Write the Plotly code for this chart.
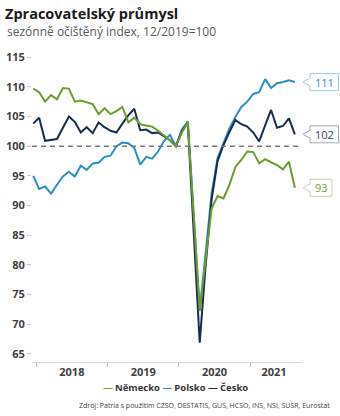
import plotly.graph_objects as go

# Monthly index values, 12/2019 = 100 (Dec 2017 .. Aug 2021)
months = [f"{y}-{m:02d}" for y, m in
          [(2017, 12)] + [(y, m) for y in (2018, 2019, 2020) for m in range(1, 13)]
          + [(2021, m) for m in range(1, 9)]]

nemecko = [109.7, 109.1, 107.5, 108.6, 107.9, 109.8, 109.7, 107.5, 107.7, 107.4,
           107.1, 105.4, 106.4, 105.4, 105.9, 106.6, 104.0, 104.8, 103.7, 103.5,
           103.3, 102.6, 101.8, 101.0, 100.0, 102.3, 104.0, 88.0, 72.2, 81.0,
           89.5, 91.6, 91.2, 93.5, 96.5, 97.7, 99.1, 99.0, 97.1, 97.8,
           97.3, 96.8, 96.1, 97.4, 93.0]

polsko = [95.0, 92.8, 93.2, 92.0, 93.5, 94.9, 95.7, 94.9, 96.7, 96.0,
          97.1, 97.2, 98.2, 98.4, 100.0, 100.6, 100.5, 99.7, 96.9, 98.2,
          97.9, 99.1, 100.9, 101.9, 100.0, 102.8, 104.2, 88.0, 72.5, 82.0,
          92.0, 98.0, 100.5, 103.0, 104.9, 106.6, 107.5, 108.8, 109.1, 111.3,
          109.8, 110.6, 110.8, 111.1, 110.8]

cesko = [103.8, 104.8, 100.9, 101.1, 101.2, 103.1, 105.0, 104.1, 102.3, 103.2,
         102.2, 104.0, 103.2, 102.6, 102.3, 103.8, 105.2, 106.3, 102.7, 102.8,
         102.2, 102.3, 101.6, 101.0, 100.0, 102.5, 103.9, 85.5, 66.9, 80.0,
         91.0, 97.5, 100.2, 102.4, 104.4, 103.7, 103.3, 102.3, 100.8, 103.5,
         106.1, 103.1, 103.4, 104.7, 102.0]

series_names = ["Německo", "Polsko", "Česko"]
y_ticks = [65, 70, 75, 80, 85, 90, 95, 100, 105, 110, 115]
base_value = 100

FONT = "Open Sans"
colors = {"Německo": "#6c9c2d", "Polsko": "#2c8fc3", "Česko": "#172c50"}
label_text = {"Německo": "#76a03e", "Polsko": "#2c8fc3", "Česko": "#33425e"}
label_border = {"Německo": "#bcd59f", "Polsko": "#9ccbe6", "Česko": "#9ea8ba"}

values = {"Německo": nemecko, "Polsko": polsko, "Česko": cesko}
xs = list(range(len(months)))

fig = go.Figure()
for name in ["Polsko", "Česko", "Německo"]:
    fig.add_trace(go.Scatter(
        x=xs, y=values[name], mode="lines", name=name,
        line=dict(color=colors[name], width=2),
        text=months, hovertemplate="%{text}: %{y}<extra>" + name + "</extra>",
        showlegend=False,
    ))

# year boundaries and year label positions derived from the month list
years = sorted({m[:4] for m in months if m[:4] != "2017"})
year_bounds = [months.index(f"{y}-01") - 0.5 for y in years]
year_centers = []
for y in years:
    idx = [i for i, m in enumerate(months) if m.startswith(y)]
    year_centers.append(sum(idx) / len(idx))

L, R, T, B = 32, 38, 50, 54
PW, PH = 340 - L - R, 416 - T - B

fig.update_layout(
    width=340, height=416,
    margin=dict(l=L, r=R, t=T, b=B, autoexpand=False),
    paper_bgcolor="white", plot_bgcolor="white",
    font=dict(family=FONT, color="#333333"),
    title=dict(
        text="<b>Zpracovatelský průmysl</b>",
        x=5 / 340, xanchor="left", xref="container",
        y=1 - 14 / 416, yanchor="middle", yref="container",
        font=dict(size=14.5, color="#1a1a1a", family=FONT),
    ),
    xaxis=dict(
        automargin=False,
        range=[-0.2, len(months) + 0.2],
        tickvals=year_centers, ticktext=years, ticks="",
        tickfont=dict(size=11, color="#404040", weight="bold"),
        ticklabelstandoff=0,
        showline=True, linecolor="#d6d6d6", linewidth=1,
        showgrid=False, zeroline=False,
        minor=dict(tickvals=year_bounds, ticks="outside", ticklen=4,
                   tickcolor="#bdbdbd", tickwidth=1, showgrid=False),
    ),
    yaxis=dict(
        automargin=False,
        range=[63.65, 116.2],
        tickvals=y_ticks,
        ticks="outside", ticklen=4, tickcolor="#c8c8c8", tickwidth=1,
        tickfont=dict(size=11, color="#404040", weight="bold"),
        showline=False, showgrid=False, zeroline=False,
    ),
)

# reference level 12/2019 = 100
fig.add_shape(type="line", xref="paper", x0=0, x1=1, yref="y",
              y0=base_value, y1=base_value,
              line=dict(color="#7a7a7a", width=1.5, dash="5px,4px"))

# value callouts at the right end of each line
for name in series_names:
    last = values[name][-1]
    txt = f"{round(last):d}"
    w = 9 + 6.5 * len(txt)
    h = 8.5
    path = (f"M 1 0 L 8 4 L 8 {h} L {8 + w} {h} L {8 + w} {-h} "
            f"L 8 {-h} L 8 -4 Z")
    fig.add_shape(type="path", xref="paper", yref="y",
                  xsizemode="pixel", ysizemode="pixel",
                  xanchor=1, yanchor=last, path=path,
                  fillcolor="white", line=dict(color=label_border[name], width=1))
    fig.add_annotation(xref="paper", yref="y", x=1, y=last,
                       xshift=8 + w / 2, showarrow=False, text=txt,
                       xanchor="center", yanchor="middle",
                       font=dict(size=11, color=label_text[name], family=FONT))

# subtitle
fig.add_annotation(xref="paper", yref="paper",
                   x=(5 - L) / PW, y=1 + (T - 32) / PH,
                   xanchor="left", yanchor="middle", showarrow=False,
                   text="sezónně očištěný index, 12/2019=100",
                   font=dict(size=12, color="#595959", family=FONT))

# legend line
legend_html = "&nbsp;".join(
    f"<span style='color:{colors[n]}'><b>—</b></span>&nbsp;<b>{n}</b>"
    for n in series_names)
fig.add_annotation(xref="paper", yref="paper", x=(175 - L) / PW,
                   y=-(387 - (416 - B)) / PH, xanchor="center", yanchor="middle",
                   showarrow=False, text=legend_html,
                   font=dict(size=9.5, color="#333333", family=FONT))

# source note
fig.add_annotation(xref="paper", yref="paper", x=1 + (332 - (340 - R)) / PW,
                   y=-(405 - (416 - B)) / PH, xanchor="right", yanchor="middle",
                   showarrow=False,
                   text="Zdroj: Patria s použitím CZSO, DESTATIS, GUS, HCSO, INS, NSI, SUSR, Eurostat",
                   font=dict(size=7, color="#404040", family=FONT))

fig.write_html("out.html")
